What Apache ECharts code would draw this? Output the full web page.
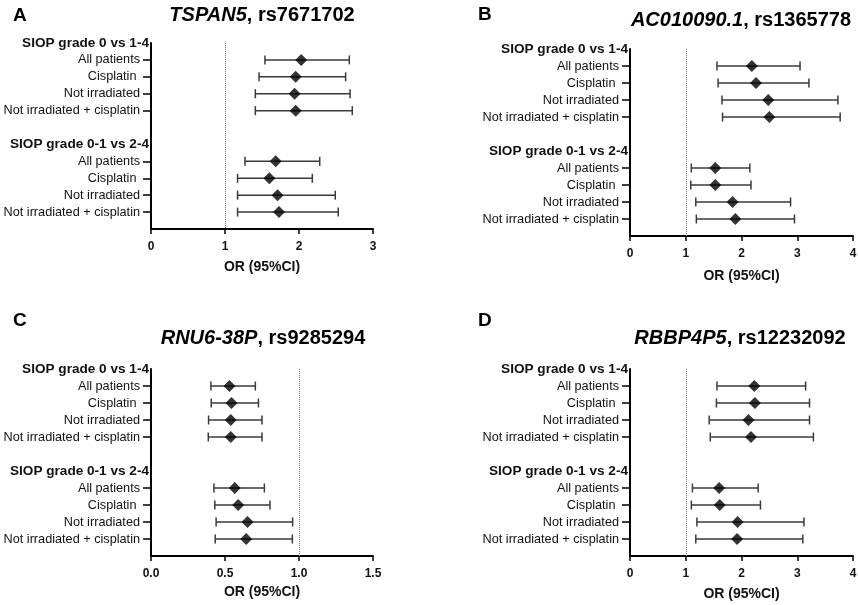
<!DOCTYPE html>
<html>
<head>
<meta charset="utf-8">
<script src="https://cdn.jsdelivr.net/npm/echarts@6/dist/echarts.min.js"></script>
<style>
  html, body { margin: 0; padding: 0; background: #fff; }
  #chart { width: 858px; height: 605px; }
</style>
</head>
<body>
<div id="chart"></div>
<script>
/* ---------------------------------- Data ---------------------------------- */
const rowLabels = [
  'SIOP grade 0 vs 1-4', 'All patients', 'Cisplatin ', 'Not irradiated', 'Not irradiated + cisplatin',
  '',
  'SIOP grade 0-1 vs 2-4', 'All patients', 'Cisplatin ', 'Not irradiated', 'Not irradiated + cisplatin',
  ''
];
const headerRows = [0, 6];
const dataRows = [1, 2, 3, 4, 7, 8, 9, 10];

const letters = ['A', 'B', 'C', 'D'];
const genes = ['TSPAN5', 'AC010090.1', 'RNU6-38P', 'RBBP4P5'];
const snps = ['rs7671702', 'rs1365778', 'rs9285294', 'rs12232092'];
const axisMax = [3, 4, 1.5, 4];
const axisStep = [1, 1, 0.5, 1];

// odds ratio and 95% CI per panel, in the order of dataRows
const orA = [2.03, 1.955, 1.94, 1.955, 1.685, 1.60, 1.71, 1.73];
const lowA = [1.54, 1.46, 1.41, 1.41, 1.27, 1.17, 1.17, 1.17];
const highA = [2.68, 2.63, 2.69, 2.72, 2.28, 2.18, 2.49, 2.53];

const orB = [2.185, 2.26, 2.48, 2.50, 1.53, 1.53, 1.84, 1.89];
const lowB = [1.56, 1.58, 1.65, 1.66, 1.10, 1.09, 1.18, 1.19];
const highB = [3.05, 3.21, 3.73, 3.77, 2.15, 2.17, 2.88, 2.95];

const orC = [0.53, 0.544, 0.539, 0.539, 0.566, 0.589, 0.652, 0.643];
const lowC = [0.405, 0.407, 0.389, 0.387, 0.425, 0.431, 0.44, 0.434];
const highC = [0.705, 0.726, 0.75, 0.75, 0.766, 0.804, 0.957, 0.955];

const orD = [2.23, 2.24, 2.125, 2.17, 1.60, 1.61, 1.93, 1.92];
const lowD = [1.56, 1.55, 1.42, 1.44, 1.12, 1.10, 1.20, 1.18];
const highD = [3.15, 3.22, 3.22, 3.29, 2.30, 2.34, 3.12, 3.10];

const panels = [
  { or: orA, low: lowA, high: highA },
  { or: orB, low: lowB, high: highB },
  { or: orC, low: lowC, high: highC },
  { or: orD, low: lowD, high: highD }
];

/* --------------------------------- Layout --------------------------------- */
const FONT = "'Liberation Sans', Arial, sans-serif";
const grids = [
  { left: 151, top: 43, width: 222, height: 186 },
  { left: 630, top: 49, width: 223, height: 187 },
  { left: 151, top: 369, width: 222, height: 187 },
  { left: 630, top: 369, width: 223, height: 187 }
].map(g => Object.assign(g, { containLabel: false, outerBoundsMode: 'none' }));
const letterPos = [[8, 1], [473, 0], [8, 306], [473, 306]];
const titlePos = [[257, 0], [736, 5], [258, 323], [735, 323]];
const nameGaps = [31, 33, 29, 31];

const chart = echarts.init(document.getElementById('chart'), null, { renderer: 'canvas' });

const titles = [];
letters.forEach((l, i) => {
  titles.push({
    text: l,
    left: letterPos[i][0],
    top: letterPos[i][1],
    textStyle: { fontFamily: FONT, fontWeight: 'bold', fontSize: 19, color: '#000' }
  });
  titles.push({
    text: `{i|${genes[i]}}{n|, ${snps[i]}}`,
    left: titlePos[i][0],
    top: titlePos[i][1],
    textAlign: 'center',
    textStyle: {
      fontFamily: FONT,
      rich: {
        i: { fontFamily: FONT, fontStyle: 'italic', fontWeight: 'bold', fontSize: 20, color: '#000' },
        n: { fontFamily: FONT, fontWeight: 'bold', fontSize: 20, color: '#000' }
      }
    }
  });
});

const xAxes = panels.map((p, i) => ({
  type: 'value',
  gridIndex: i,
  min: 0,
  max: axisMax[i],
  interval: axisStep[i],
  name: 'OR (95%CI)',
  nameLocation: 'middle',
  nameGap: nameGaps[i],
  nameTextStyle: { fontFamily: FONT, fontWeight: 'bold', fontSize: 14, color: '#111' },
  axisLine: { show: true, lineStyle: { color: '#000', width: 2 } },
  axisTick: { show: true, length: 5, lineStyle: { color: '#000', width: 1.5 } },
  axisLabel: {
    margin: 12,
    fontFamily: FONT,
    fontWeight: 'bold',
    fontSize: 12,
    color: '#111',
    formatter: v => (axisStep[i] < 1 ? v.toFixed(1) : String(v))
  },
  splitLine: { show: false }
}));

const yAxes = panels.map((p, i) => ({
  type: 'category',
  gridIndex: i,
  data: rowLabels,
  inverse: true,
  boundaryGap: false,
  axisLine: { show: true, lineStyle: { color: '#000', width: 2 } },
  axisTick: {
    show: true,
    length: 8,
    interval: idx => dataRows.includes(idx),
    lineStyle: { color: '#000', width: 1.5 }
  },
  axisLabel: {
    interval: 0,
    margin: 2,
    fontFamily: FONT,
    fontSize: 12.7,
    color: '#111',
    formatter: (v, idx) => {
      if (headerRows.includes(idx)) return `{h|${v}}`;
      if (v === '') return '';
      return `{r|${v}}`;
    },
    rich: {
      h: { fontFamily: FONT, fontWeight: 'bold', fontSize: 13.6, color: '#111' },
      r: { fontFamily: FONT, fontSize: 12.7, color: '#111', padding: [0, 9, 0, 0] }
    }
  },
  splitLine: { show: false }
}));

const series = [];
panels.forEach((p, i) => {
  const barData = dataRows.map((row, k) => [p.low[k], p.high[k], row]);
  const pointData = dataRows.map((row, k) => [p.or[k], row]);

  series.push({
    type: 'custom',
    xAxisIndex: i,
    yAxisIndex: i,
    encode: { x: [0, 1], y: 2 },
    data: barData,
    silent: true,
    renderItem: (params, api) => {
      const row = api.value(2);
      const a = api.coord([api.value(0), row]);
      const b = api.coord([api.value(1), row]);
      const cap = 4.5;
      const style = { stroke: '#3a3a3a', lineWidth: 1.5 };
      return {
        type: 'group',
        children: [
          { type: 'line', shape: { x1: a[0], y1: a[1], x2: b[0], y2: b[1] }, style },
          { type: 'line', shape: { x1: a[0], y1: a[1] - cap, x2: a[0], y2: a[1] + cap }, style },
          { type: 'line', shape: { x1: b[0], y1: b[1] - cap, x2: b[0], y2: b[1] + cap }, style }
        ]
      };
    },
    z: 2
  });

  series.push({
    type: 'scatter',
    xAxisIndex: i,
    yAxisIndex: i,
    data: pointData,
    symbol: 'diamond',
    symbolSize: 12,
    itemStyle: { color: '#000' },
    silent: true,
    z: 3,
    markLine: {
      silent: true,
      symbol: 'none',
      label: { show: false },
      lineStyle: { color: '#777', type: 'dotted', width: 1 },
      data: [{ xAxis: 1 }],
      animation: false
    }
  });
});

chart.setOption({
  animation: false,
  backgroundColor: '#fff',
  title: titles,
  grid: grids,
  xAxis: xAxes,
  yAxis: yAxes,
  series
});
</script>
</body>
</html>
